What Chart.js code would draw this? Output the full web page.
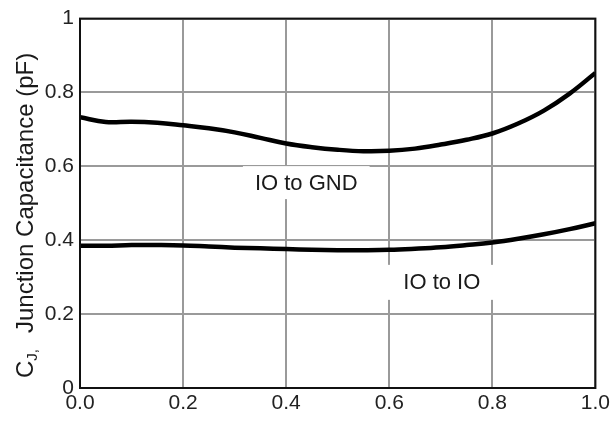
<!DOCTYPE html>
<html>
<head>
<meta charset="utf-8">
<script src="https://cdn.jsdelivr.net/npm/chart.js@4.4.0/dist/chart.umd.min.js"></script>
<style>
  html, body { margin: 0; padding: 0; background: #fff; }
  #chart { display: block; }
</style>
</head>
<body>
<canvas id="chart" width="613" height="423"></canvas>
<script>
// --- Data ---
const voltage = [0, 0.05, 0.1, 0.15, 0.2, 0.25, 0.3, 0.35, 0.4, 0.45, 0.5,
                 0.55, 0.6, 0.65, 0.7, 0.75, 0.8, 0.85, 0.9, 0.95, 1.0];
const ioToGnd = [0.733, 0.720, 0.721, 0.718, 0.711, 0.703, 0.692, 0.677, 0.662, 0.652, 0.645,
                 0.641, 0.642, 0.648, 0.659, 0.672, 0.689, 0.716, 0.751, 0.797, 0.853];
const ioToIo  = [0.385, 0.385, 0.387, 0.387, 0.386, 0.383, 0.380, 0.378, 0.376, 0.374, 0.373,
                 0.373, 0.374, 0.377, 0.381, 0.387, 0.394, 0.404, 0.416, 0.430, 0.446];
const seriesNames = ["IO to GND", "IO to IO"];
const xTicks = [0, 0.2, 0.4, 0.6, 0.8, 1.0];
const yTicks = [0, 0.2, 0.4, 0.6, 0.8, 1];

const FONT = "'Liberation Sans', Arial, sans-serif";

// --- Frame, in-plot labels and rotated y title ---
const decorPlugin = {
  id: "decor",
  beforeDatasetsDraw(chart) {
    const { ctx, scales: { x, y } } = chart;
    const labels = [
      { text: seriesNames[0], x: 0.439, y: 0.556, padX: 12, h: 33 },
      { text: seriesNames[1], x: 0.702, y: 0.286, padX: 19, h: 35 }
    ];
    ctx.save();
    ctx.font = "22px " + FONT;
    ctx.textAlign = "center";
    ctx.textBaseline = "middle";
    labels.forEach(l => {
      const px = x.getPixelForValue(l.x);
      const py = y.getPixelForValue(l.y);
      const w = ctx.measureText(l.text).width + l.padX * 2;
      ctx.fillStyle = "#fff";
      ctx.fillRect(px - w / 2, py - l.h / 2, w, l.h);
      ctx.fillStyle = "#1a1a1a";
      ctx.fillText(l.text, px, py + 1);
    });
    ctx.restore();
  },
  afterDraw(chart) {
    const { ctx, chartArea: a } = chart;
    ctx.save();
    ctx.strokeStyle = "#111";
    ctx.lineWidth = 2;
    ctx.strokeRect(a.left, a.top, a.right - a.left, a.bottom - a.top);

    // y title: C with subscript J, then the rest
    ctx.translate(33, 378);
    ctx.rotate(-Math.PI / 2);
    ctx.fillStyle = "#1a1a1a";
    ctx.textAlign = "left";
    ctx.textBaseline = "alphabetic";
    ctx.font = "24px " + FONT;
    ctx.fillText("C", 0, 0);
    const cw = ctx.measureText("C").width;
    ctx.font = "15px " + FONT;
    ctx.fillText("J,", cw, 4);
    ctx.font = "24px " + FONT;
    ctx.fillText("Junction Capacitance (pF)", 45, 0);
    ctx.restore();
  }
};

const fmt = v => Math.round(v * 10) / 10;

new Chart(document.getElementById("chart"), {
  type: "line",
  data: {
    datasets: [
      {
        label: seriesNames[0],
        data: voltage.map((v, i) => ({ x: v, y: ioToGnd[i] })),
        borderColor: "#000",
        borderWidth: 4.5,
        pointRadius: 0,
        tension: 0.4,
        fill: false
      },
      {
        label: seriesNames[1],
        data: voltage.map((v, i) => ({ x: v, y: ioToIo[i] })),
        borderColor: "#000",
        borderWidth: 4.5,
        pointRadius: 0,
        tension: 0.4,
        fill: false
      }
    ]
  },
  options: {
    responsive: false,
    animation: false,
    devicePixelRatio: 1,
    layout: { padding: { top: 18, right: 16, left: 0, bottom: 0 } },
    plugins: { legend: { display: false }, tooltip: { enabled: false } },
    scales: {
      x: {
        type: "linear",
        min: 0,
        max: 1,
        afterBuildTicks: s => { s.ticks = xTicks.map(v => ({ value: v })); },
        afterFit: s => { s.height = 35; },
        ticks: {
          callback: v => fmt(v).toFixed(1),
          font: { family: FONT, size: 21 },
          color: "#222",
          padding: 3,
          maxRotation: 0
        },
        grid: { color: "#9a9a9a", lineWidth: 2, drawTicks: false },
        border: { display: false }
      },
      y: {
        min: 0,
        max: 1,
        afterBuildTicks: s => { s.ticks = yTicks.map(v => ({ value: v })); },
        afterFit: s => { s.width = 80; },
        ticks: {
          callback: v => {
            const r = fmt(v);
            return (r === 0 || r === 1) ? String(r) : r.toFixed(1);
          },
          font: { family: FONT, size: 21 },
          color: "#222",
          padding: 6
        },
        grid: { color: "#9a9a9a", lineWidth: 2, drawTicks: false },
        border: { display: false }
      }
    }
  },
  plugins: [decorPlugin]
});
</script>
</body>
</html>
